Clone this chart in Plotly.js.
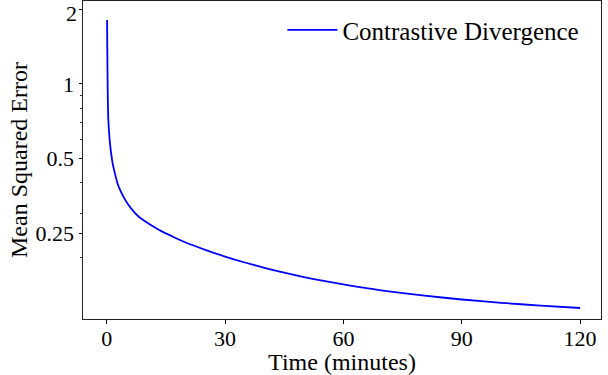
<!DOCTYPE html>
<html>
<head>
<meta charset="utf-8">
<script src="https://cdn.plot.ly/plotly-3.0.1.min.js"></script>
<style>
html,body{margin:0;padding:0;background:#fff;}
#chart{width:608px;height:375px;}
</style>
</head>
<body>
<div id="chart"></div>
<script>
const seriesName = "Contrastive Divergence";
const timeMinutes = [0.1, 0.15, 0.2, 0.25, 0.3, 0.4, 0.6, 0.85, 1.1, 1.5, 2.1, 2.8, 3.4, 4.3, 5.5, 6.7, 8, 9, 10, 11, 12.25, 14, 16.5, 20, 25, 30, 35, 40, 45, 50, 55, 60, 65, 70, 80, 90, 100, 110, 120];
const mseValues = [1.81, 1.45, 1.17, 0.98, 0.86, 0.73, 0.64, 0.575, 0.53, 0.48, 0.435, 0.395, 0.374, 0.35, 0.326, 0.308, 0.293, 0.285, 0.278, 0.2715, 0.264, 0.2545, 0.2435, 0.2295, 0.2145, 0.2015, 0.1907, 0.1815, 0.1735, 0.1665, 0.1607, 0.1555, 0.151, 0.147, 0.1405, 0.1353, 0.1312, 0.1278, 0.125];
const xTicks = [0, 30, 60, 90, 120];
const yTicks = [0.25, 0.5, 1, 2];
const yTickText = ["0.25", "0.5", "1", "2"];
const yMinorTicks = [0.2, 0.3, 0.4, 0.6, 0.7, 0.8, 0.9];

const font = "Liberation Serif, Times New Roman, serif";

const trace = {
  x: timeMinutes,
  y: mseValues,
  type: "scatter",
  mode: "lines",
  name: seriesName,
  line: {color: "#0000ff", width: 1.8, shape: "spline", smoothing: 0.6}
};

// top tick label ("2") drawn as annotation so it sits inside the figure like the reference
const topIdx = yTicks.length - 1;
const shownTickText = yTickText.map((t, i) => i === topIdx ? "" : t);

const layout = {
  width: 608,
  height: 375,
  margin: {l: 83, r: 7, t: 1, b: 56},
  paper_bgcolor: "#fff",
  plot_bgcolor: "#fff",
  font: {family: font, size: 22, color: "#000"},
  showlegend: true,
  legend: {
    x: 0.968, y: 0.981, xanchor: "right", yanchor: "top",
    xref: "paper", yref: "paper",
    bgcolor: "rgba(0,0,0,0)",
    font: {family: font, size: 25, color: "#000"},
    itemwidth: 50
  },
  annotations: [{
    xref: "paper", x: 0, yref: "y", y: Math.log10(yTicks[topIdx]),
    text: yTickText[topIdx], showarrow: false,
    xanchor: "right", yanchor: "middle", xshift: -4, yshift: -4,
    font: {family: font, size: 22, color: "#000"}
  }],
  xaxis: {
    range: [-6.0, 125.3],
    tickmode: "array",
    tickvals: xTicks,
    ticks: "outside",
    ticklen: 3.5,
    tickwidth: 1,
    tickcolor: "#000",
    showgrid: false,
    zeroline: false,
    showline: true,
    linecolor: "#222",
    linewidth: 1,
    mirror: true,
    ticklabelstandoff: -4,
    tickfont: {family: font, size: 22, color: "#000"},
    title: {text: "Time (minutes)", font: {family: font, size: 24, color: "#000"}, standoff: 2},
    automargin: false
  },
  yaxis: {
    type: "log",
    range: [-0.9474, 0.3344],
    tickmode: "array",
    tickvals: yTicks,
    ticktext: shownTickText,
    ticks: "outside",
    ticklen: 3.5,
    tickwidth: 1,
    tickcolor: "#000",
    minor: {tickmode: "array", tickvals: yMinorTicks, ticks: "outside", ticklen: 2, tickwidth: 0.8, tickcolor: "#000", showgrid: false},
    showgrid: false,
    zeroline: false,
    showline: true,
    linecolor: "#222",
    linewidth: 1,
    mirror: true,
    tickfont: {family: font, size: 22, color: "#000"},
    title: {text: "Mean Squared Error", font: {family: font, size: 24, color: "#000"}, standoff: 1},
    automargin: false
  }
};

Plotly.newPlot("chart", [trace], layout, {displayModeBar: false, staticPlot: true});
</script>
</body>
</html>
